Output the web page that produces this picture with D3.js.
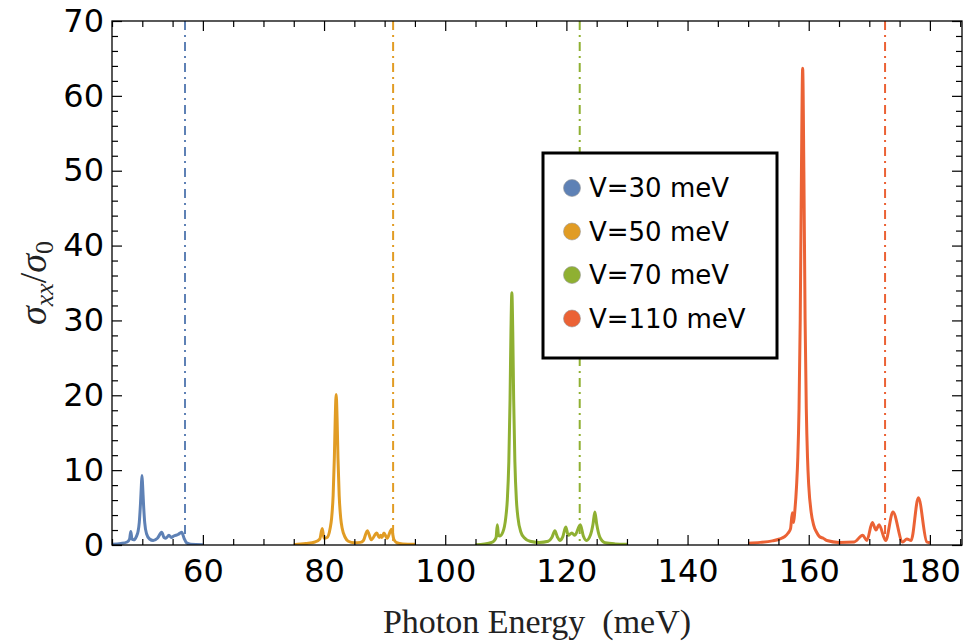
<!DOCTYPE html>
<html lang="en">
<head>
    <meta charset="UTF-8">
    <script src="https://d3js.org/d3.v7.min.js"></script>
    <style>
        body {
            margin: 0;
            background: #fff;
        }
        svg {
            display: block;
        }
    </style>
</head>
<body>
    <svg width="966" height="643"></svg>

    <script>
        // values (photon energy in meV, sigma_xx / sigma_0)
        const energyV30 = [45, 46.5, 47.5, 47.9, 48.1, 48.3, 48.6, 49.0, 49.3, 49.5, 49.7, 49.85, 49.95, 50.05, 50.2, 50.4, 50.7, 51.2, 51.8, 52.5, 53.2, 53.6, 53.9, 54.4, 54.8, 55.2, 55.9, 56.5, 56.9, 57.3, 58, 60];
        const sigmaV30 = [0.1, 0.2, 0.4, 0.8, 1.8, 0.8, 0.7, 1.1, 1.8, 3.0, 5.5, 8.0, 9.3, 8.0, 5.5, 3.0, 1.5, 0.8, 0.6, 0.9, 1.7, 1.0, 0.9, 1.3, 1.0, 1.2, 1.4, 1.7, 0.9, 0.3, 0.1, 0.05];

        const energyV50 = [75, 77, 78.5, 79.3, 79.7, 80.0, 80.5, 81.0, 81.25, 81.5, 81.7, 81.85, 82.0, 82.15, 82.3, 82.5, 82.75, 83.0, 83.5, 84.0, 85.0, 86.0, 86.5, 87.15, 87.8, 88.7, 89.1, 89.35, 89.55, 89.9, 90.4, 91.15, 91.5, 92.0, 93, 95];
        const sigmaV50 = [0.05, 0.2, 0.4, 0.8, 2.2, 0.9, 1.0, 2.2, 3.6, 6.6, 11.6, 17.0, 20.1, 17.0, 11.6, 6.6, 3.6, 2.2, 1.0, 0.5, 0.3, 0.35, 0.6, 1.9, 0.7, 1.6, 1.0, 1.3, 1.0, 1.6, 0.9, 2.1, 0.8, 0.3, 0.15, 0.1];

        const energyV70 = [105, 106.5, 107.5, 108.0, 108.4, 108.6, 108.8, 109.0, 109.5, 110.0, 110.25, 110.5, 110.7, 110.85, 111.0, 111.15, 111.3, 111.5, 111.75, 112.0, 112.5, 113.0, 114, 115.5, 117, 117.6, 118.1, 118.5, 118.9, 119.4, 119.9, 120.3, 120.9, 121.4, 122.3, 122.8, 123.3, 124.0, 124.4, 124.7, 125.0, 125.5, 126.4, 128, 130];
        const sigmaV70 = [0.05, 0.15, 0.3, 0.5, 1.0, 2.7, 1.3, 1.2, 1.7, 3.7, 6.0, 11.1, 19.4, 28.5, 33.7, 28.5, 19.4, 11.1, 6.0, 3.7, 1.7, 1.0, 0.5, 0.35, 0.5, 1.0, 1.9, 1.1, 0.6, 1.1, 2.4, 1.3, 1.6, 1.3, 2.7, 1.2, 0.6, 1.4, 2.8, 4.4, 2.8, 1.1, 0.3, 0.15, 0.1];

        const energyV110 = [150, 152, 154, 155.2, 156.0, 156.6, 157.0, 157.3, 157.5, 157.7, 158.0, 158.2, 158.4, 158.6, 158.8, 159.0, 159.2, 159.4, 159.6, 159.8, 160.0, 160.4, 160.8, 161.3, 161.8, 162.4, 163, 165, 167.5, 168.9, 169.6, 170.5, 171.1, 171.6, 172.7, 173.9, 175.5, 176.2, 176.9, 178.1, 179.5, 180];
        const sigmaV110 = [0.25, 0.35, 0.55, 0.8, 1.1, 1.6, 2.2, 4.3, 3.0, 4.5, 8.0, 11.7, 18.2, 30.2, 49.9, 63.7, 49.9, 30.2, 18.2, 11.7, 8.0, 4.4, 2.7, 1.7, 1.1, 0.9, 0.6, 0.35, 0.4, 1.3, 0.6, 3.0, 2.0, 2.7, 0.6, 4.4, 0.4, 0.8, 0.6, 6.3, 0.4, 0.3];

        const seriesNames = ["V=30 meV", "V=50 meV", "V=70 meV", "V=110 meV"];
        const seriesColors = ["#5e81b5", "#e19c24", "#8fb032", "#eb6235"];
        const thresholdEnergy = [57.05, 91.4, 122.2, 172.6];

        const xMajorTicks = [60, 80, 100, 120, 140, 160, 180];
        const yMajorTicks = [0, 10, 20, 30, 40, 50, 60, 70];

        const svg = d3.select("svg");
        const margin = { top: 21, right: 4, bottom: 98, left: 112 };
        const width = +svg.attr("width") - margin.left - margin.right;
        const height = +svg.attr("height") - margin.top - margin.bottom;

        const x = d3.scaleLinear().domain([45, 185.3]).range([0, width]);
        const y = d3.scaleLinear().domain([0, 70]).range([height, 0]);

        const xMinorTicks = d3.range(45, 186, 5).filter(d => !xMajorTicks.includes(d));
        const yMinorTicks = d3.range(0, 71, 2).filter(d => !yMajorTicks.includes(d));

        const g = svg.append("g").attr("transform", `translate(${margin.left},${margin.top})`);

        g.append("clipPath").attr("id", "plot-clip")
            .append("rect").attr("width", width).attr("height", height);

        // threshold lines
        g.selectAll(".threshold")
            .data(thresholdEnergy)
            .enter()
            .append("line")
            .attr("class", "threshold")
            .attr("x1", d => x(d)).attr("x2", d => x(d))
            .attr("y1", 0).attr("y2", height)
            .attr("stroke", (d, i) => seriesColors[i])
            .attr("stroke-width", 2)
            .attr("stroke-dasharray", "9,5,2,5");

        // spectra
        const series = [
            d3.zip(energyV30, sigmaV30),
            d3.zip(energyV50, sigmaV50),
            d3.zip(energyV70, sigmaV70),
            d3.zip(energyV110, sigmaV110)
        ];

        const line = d3.line()
            .x(d => x(d[0]))
            .y(d => y(d[1]))
            .curve(d3.curveMonotoneX);

        g.append("g").attr("clip-path", "url(#plot-clip)")
            .selectAll("path")
            .data(series)
            .enter()
            .append("path")
            .attr("d", line)
            .attr("fill", "none")
            .attr("stroke", (d, i) => seriesColors[i])
            .attr("stroke-width", 3)
            .attr("stroke-linejoin", "round");

        // frame with inward ticks on all four sides
        function tickAxis(axisFn, scale, values, size, translate, showLabels) {
            const a = axisFn(scale).tickValues(values).tickSizeInner(-size).tickSizeOuter(0).tickPadding(8);
            if (!showLabels) a.tickFormat("");
            const ag = g.append("g").attr("transform", translate).call(a);
            ag.select(".domain").remove();
            ag.selectAll("line").attr("stroke", "#000").attr("stroke-width", 1.2);
            ag.selectAll("text")
                .attr("font-family", "'DejaVu Sans', sans-serif")
                .attr("font-size", 32)
                .attr("fill", "#000");
            return ag;
        }

        tickAxis(d3.axisBottom, x, xMajorTicks, 10, `translate(0,${height})`, true)
            .selectAll("text").attr("dy", "0.9em");
        tickAxis(d3.axisBottom, x, xMinorTicks, 6, `translate(0,${height})`, false);
        tickAxis(d3.axisTop, x, xMajorTicks, 10, "translate(0,0)", false);
        tickAxis(d3.axisTop, x, xMinorTicks, 6, "translate(0,0)", false);
        tickAxis(d3.axisLeft, y, yMajorTicks, 10, "translate(0,0)", true);
        tickAxis(d3.axisLeft, y, yMinorTicks, 6, "translate(0,0)", false);
        tickAxis(d3.axisRight, y, yMajorTicks, 10, `translate(${width},0)`, false);
        tickAxis(d3.axisRight, y, yMinorTicks, 6, `translate(${width},0)`, false);

        g.append("rect")
            .attr("width", width).attr("height", height)
            .attr("fill", "none")
            .attr("stroke", "#000")
            .attr("stroke-width", 1.3);

        // axis titles
        svg.append("text")
            .attr("x", 537)
            .attr("y", 633)
            .attr("text-anchor", "middle")
            .attr("font-family", "'Liberation Serif', serif")
            .attr("font-size", 34)
            .attr("fill", "#222")
            .text("Photon Energy\u2002(meV)");

        const yTitle = svg.append("text")
            .attr("transform", "translate(46,283) rotate(-90)")
            .attr("text-anchor", "middle")
            .attr("font-family", "'Liberation Serif', serif")
            .attr("font-style", "italic")
            .attr("font-size", 38)
            .attr("fill", "#222");
        yTitle.append("tspan").text("\u03c3");
        yTitle.append("tspan").attr("font-size", 26).attr("dy", 7).text("xx");
        yTitle.append("tspan").attr("font-style", "normal").attr("dy", -7).text("/");
        yTitle.append("tspan").text("\u03c3");
        yTitle.append("tspan").attr("font-size", 26).attr("font-style", "normal").attr("dy", 7).text("0");

        // legend
        const legend = svg.append("g").attr("transform", "translate(543,153)");
        legend.append("rect")
            .attr("width", 234).attr("height", 205)
            .attr("fill", "#fff")
            .attr("stroke", "#000")
            .attr("stroke-width", 3);

        const items = legend.selectAll(".item")
            .data(seriesNames)
            .enter()
            .append("g")
            .attr("class", "item")
            .attr("transform", (d, i) => `translate(29,${35 + i * 43.5})`);

        items.append("circle")
            .attr("r", 8.5)
            .attr("fill", (d, i) => seriesColors[i])
            .attr("stroke", "#999")
            .attr("stroke-width", 0.6);

        items.append("text")
            .attr("x", 17)
            .attr("dy", "0.36em")
            .attr("font-family", "'DejaVu Sans', sans-serif")
            .attr("font-size", 26)
            .attr("fill", "#000")
            .text(d => d);
    </script>
</body>
</html>
